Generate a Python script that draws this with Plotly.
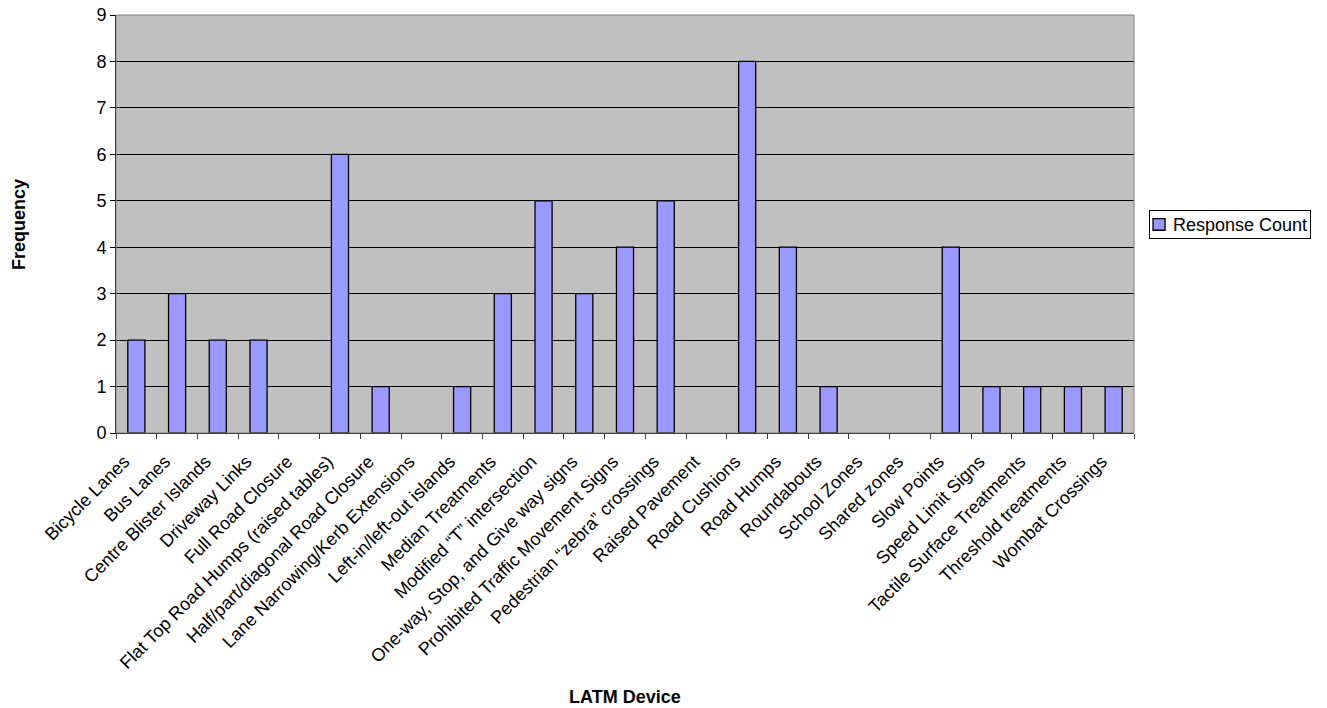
import plotly.graph_objects as go

categories = [
    "Bicycle Lanes", "Bus Lanes", "Centre Blister Islands", "Driveway Links",
    "Full Road Closure", "Flat Top Road Humps (raised tables)",
    "Half/part/diagonal Road Closure", "Lane Narrowing/Kerb Extensions",
    "Left-in/left-out islands", "Median Treatments", "Modified \u201cT\u201d intersection",
    "One-way, Stop, and Give way signs", "Prohibited Traffic Movement Signs",
    "Pedestrian \u201czebra\u201d crossings", "Raised Pavement", "Road Cushions",
    "Road Humps", "Roundabouts", "School Zones", "Shared zones", "Slow Points",
    "Speed Limit Signs", "Tactile Surface Treatments", "Threshold treatments",
    "Wombat Crossings",
]
response_count = [2, 3, 2, 2, 0, 6, 1, 0, 1, 3, 5, 3, 4, 5, 0, 8, 4, 1, 0, 0, 4, 1, 1, 1, 1]
y_ticks = list(range(0, 10))
series_name = "Response Count"

FONT = "Liberation Sans, Arial, sans-serif"
FS = 18
BAR_COLOR = "#9999FF"

fig = go.Figure()
fig.add_trace(go.Bar(
    x=categories, y=response_count, name=series_name,
    marker=dict(color=BAR_COLOR,
                line=dict(color="black", width=[1.3 if v > 0 else 0 for v in response_count])),
    showlegend=False,
))

fig.update_layout(
    width=1327, height=708,
    margin=dict(l=116, r=193, t=15, b=275),
    paper_bgcolor="white", plot_bgcolor="#C0C0C0",
    font=dict(family=FONT, size=FS, color="black"),
    bargap=0.58,
    showlegend=False,
    xaxis=dict(
        type="category", tickangle=-45, tickson="boundaries",
        ticks="outside", ticklen=5, tickcolor="#404040",
        showline=True, linecolor="black", linewidth=1,
        showgrid=False, tickfont=dict(family=FONT, size=FS),
        range=[-0.5, len(categories) - 0.5], automargin=False,
        ticklabelshift=-12, ticklabelstandoff=10,
    ),
    yaxis=dict(
        range=[0, 9], tickvals=y_ticks, ticks="outside", ticklen=5,
        tickcolor="black", showline=True, linecolor="black", linewidth=1,
        showgrid=True, gridcolor="black", gridwidth=1, zeroline=False,
        tickfont=dict(family=FONT, size=FS), automargin=False,
    ),
    shapes=[
        dict(type="rect", xref="paper", yref="paper", x0=0, x1=1, y0=0, y1=1,
             line=dict(color="#808080", width=1), fillcolor="rgba(0,0,0,0)", layer="above"),
        # legend swatch
        dict(type="rect", xref="paper", yref="paper", x0=1.0187, x1=1.0305, y0=0.485, y1=0.513,
             line=dict(color="black", width=1.3), fillcolor=BAR_COLOR),
    ],
    annotations=[
        dict(text="<b>Frequency</b>", xref="paper", yref="paper", x=-0.0953, y=0.5,
             xanchor="center", yanchor="middle", textangle=-90, showarrow=False,
             font=dict(family=FONT, size=FS)),
        dict(text="<b>LATM Device</b>", xref="paper", yref="paper", x=0.5, y=-0.6316,
             xanchor="center", yanchor="middle", showarrow=False,
             font=dict(family=FONT, size=FS)),
        # legend box
        dict(text=series_name, xref="paper", yref="paper", x=1.0147, y=0.499,
             xanchor="left", yanchor="middle", showarrow=False, align="right",
             width=154, height=21, borderpad=3, bordercolor="black", borderwidth=1,
             bgcolor="rgba(0,0,0,0)", font=dict(family=FONT, size=FS)),
    ],
)

fig.write_html("out.html", config={"displayModeBar": False},
               post_script="document.body.style.margin='0px';")
